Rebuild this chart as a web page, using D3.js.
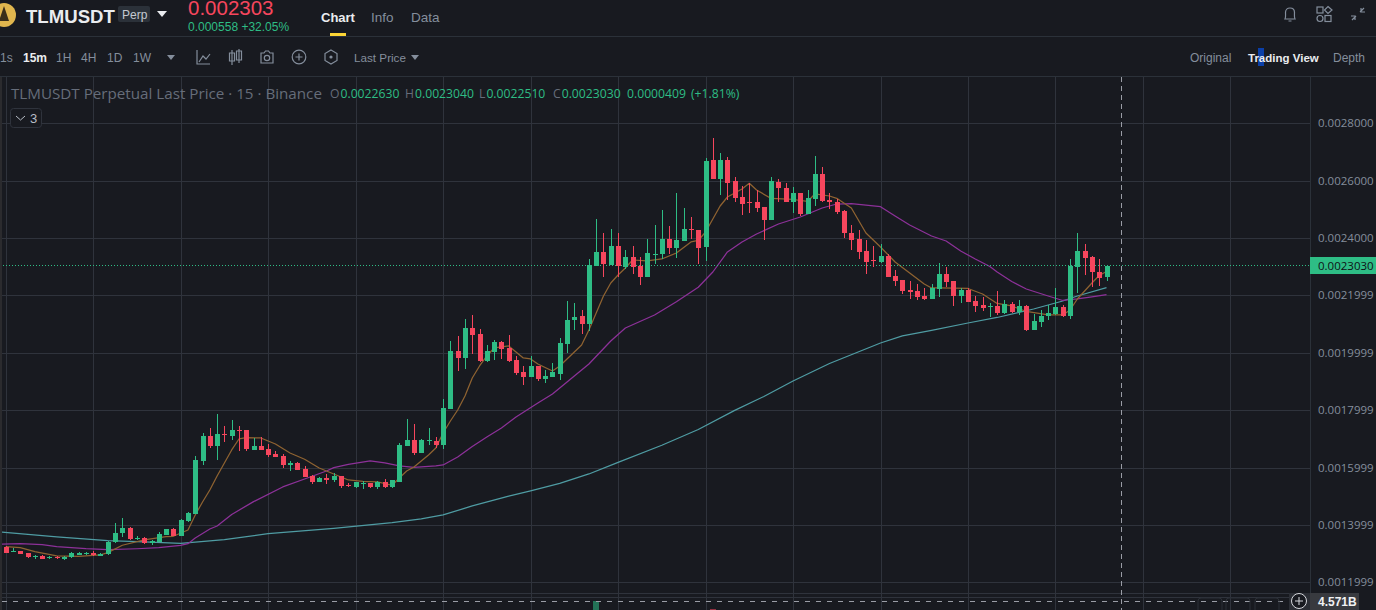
<!DOCTYPE html>
<html>
<head>
<meta charset="utf-8">
<title>TLMUSDT</title>
<script src="https://cdn.jsdelivr.net/npm/d3@7"></script>
<style>
  html, body { margin: 0; padding: 0; background: #181a20; overflow: hidden; }
  svg { display: block; }
  text { font-family: "Liberation Sans", Arial, sans-serif; }
  .crisp { shape-rendering: crispEdges; }
</style>
</head>
<body>
<svg id="chart" width="1376" height="610"></svg>
<script>
var opens = [13231,13069,13092,13011,12894,12918,12871,12894,12813,12860,
  12952,12987,13011,12929,12964,13382,13707,13882,13533,13533,
  13347,13394,13649,13847,13626,14137,14393,16239,17099,16762,
  17168,17110,17308,17308,16623,16750,16646,16472,16402,16100,
  16158,15949,15705,15496,15635,15566,15705,15403,15322,15438,
  15461,15322,15496,15322,15496,16750,16959,16507,16925,16925,
  16785,18039,20060,19816,20861,20652,19711,20025,20373,20164,
  19746,19328,19154,19537,19084,19154,19258,20304,21140,21279,
  21001,23021,23509,23056,23718,22987,23335,23021,22638,23416,
  23440,23962,23649,23892,24299,24276,23683,26715,26053,26715,
  25983,25426,25251,25251,25077,24624,25948,25739,25251,25565,
  24833,25356,26227,25321,25251,24938,24171,23962,23544,23231,
  23161,23370,22673,22534,22185,22150,21976,21872,22220,22743,
  22499,21976,22185,21802,21663,21570,21628,21384,21698,21419,
  21628,20792,21070,21279,21349,21593,21279,22987,23544,23335,
  22812,22630];
var highs = [13278,13208,13092,13011,12964,12952,12929,12929,12906,13045,
  13057,13057,13092,13022,13429,14067,14242,13916,13614,13568,
  13463,13754,13847,13882,14207,14451,16402,17203,17377,17865,
  17447,17656,17447,17308,17029,17064,16820,16576,16472,16228,
  16193,16053,15740,15670,15775,15810,15705,15461,15496,15531,
  15461,15531,15601,15566,16855,17691,17517,16994,17378,17064,
  18388,20408,20582,21175,21314,20826,20269,20443,20408,20617,
  19886,19537,19886,19537,19398,19642,20513,21802,21732,21488,
  23265,24659,24171,24311,24171,23579,23718,23335,23962,24450,
  24973,24415,25565,25042,24729,24276,26784,27481,26959,26819,
  26122,25809,25913,25669,25077,26122,26053,25913,25774,25565,
  25669,26854,26471,25565,25356,24973,24450,24276,23927,23718,
  23788,23440,22882,22534,22499,22394,22255,22394,23126,22987,
  22499,22255,22255,21976,21941,21732,22150,21837,21767,21837,
  21663,21349,21488,21663,22255,21663,23265,24171,23788,23370,
  23265,23040];
var lows = [13022,13057,12987,12860,12825,12825,12825,12813,12778,12860,
  12941,12941,12929,12929,12964,13382,13580,13487,13475,13347,
  13301,13394,13649,13614,13626,14102,14393,16100,16681,16262,
  16890,16959,16576,16576,16623,16611,16367,16379,15984,15879,
  15926,15670,15426,15496,15426,15496,15287,15322,15287,15252,
  15287,15252,15287,15287,15496,16750,16437,16507,16785,16681,
  16646,18039,19363,19433,19955,19677,19677,19746,19781,19677,
  19224,18875,19154,19015,18945,19154,19049,19990,20792,20652,
  20757,23021,22638,23056,22638,22917,22743,22359,22638,23091,
  23265,23440,23300,23892,23962,23091,23196,26053,25495,25321,
  25251,24798,24868,24903,23927,24624,25251,25251,24868,24764,
  24833,25112,25251,25008,24833,23997,23579,23265,22743,22987,
  23126,22638,22325,22046,21872,21837,21837,21872,21941,22290,
  21628,21732,21767,21419,21454,21245,21314,21349,21384,21314,
  20757,20792,20896,21140,21314,21245,21175,22081,22708,22290,
  22325,22510];
var closes = [13034,13080,12987,12860,12918,12825,12894,12871,12883,13011,
  13011,13011,12929,12999,13394,13707,13882,13487,13556,13347,
  13429,13673,13847,13614,14172,14404,16262,17099,16750,17168,
  17145,17308,17285,16646,16750,16611,16448,16379,16088,16158,
  15926,15670,15496,15635,15566,15705,15357,15357,15496,15461,
  15322,15496,15322,15566,16785,16959,16506,16959,16959,16785,
  18074,20060,19816,20861,20617,19711,20060,20373,20130,19711,
  19293,19154,19537,19084,19189,19328,20339,21140,21244,21001,
  23056,23509,23091,23718,23021,23335,22987,22638,23474,23440,
  23962,23649,23927,24311,24276,23649,26680,26053,26715,25913,
  25391,25182,25228,25042,24624,25983,25739,25251,25565,24833,
  25391,26227,25286,25251,24903,24171,23927,23509,23161,23207,
  23370,22638,22499,22150,22116,21941,21872,22255,22743,22464,
  21976,22185,21767,21628,21558,21616,21384,21698,21419,21628,
  20792,21105,21279,21384,21593,21279,23021,23544,23300,22812,
  22603,23030];

// moving averages, read at the candle indexes listed
var ma7Idx = [0,2,4,7,10,13,14,16,19,22,23,25,26,27,28,29,30,31,32,33,35,37,39,41,43,45,47,49,51,53,54,55,56,58,59,60,61,62,63,64,65,66,67,69,71,72,73,75,76,78,79,80,81,82,83,84,85,86,88,90,92,94,95,96,97,98,99,101,102,103,105,108,110,111,113,114,116,118,120,122,124,126,127,128,132,134,136,138,140,143,145,146,147,148,149,150,151];
var ma7 = [13242,13207,13067,12918,12907,12953,13033,13291,13475,13590,13604,13824,14346,14799,15217,15705,16158,16611,16994,17039,17029,16820,16506,16287,15984,15775,15566,15520,15496,15381,15635,15879,16019,16437,16680,17203,17621,18004,18492,19119,19537,19886,20164,20234,19816,19781,19607,19363,19537,20025,20269,20792,21384,21976,22429,22708,22952,23230,23196,23265,23474,23858,23910,24206,24659,25112,25425,25704,25903,25669,25373,25338,25269,25530,25460,25380,25042,24171,23683,23161,22777,22394,22255,22255,22237,22046,21715,21628,21436,21314,21314,21488,21872,22150,22429,22690,22830];
var ma25Idx = [-1,2,5,7,11,14,18,21,24,25,26,28,29,31,34,38,41,44,45,47,50,52,54,56,59,60,62,64,66,68,70,73,75,78,80,83,85,89,92,95,97,99,101,103,106,109,112,114,116,120,122,124,127,129,131,133,135,136,138,140,143,145,147,149,151];
var ma25 = [13325,13346,13311,13242,13172,13137,13169,13207,13284,13346,13545,13858,13963,14364,14810,15322,15600,15879,15994,16106,16228,16158,16053,16008,16053,16088,16367,16733,17064,17377,17761,18248,18562,19189,19607,20408,20861,21314,21778,22279,22812,23509,23858,24136,24485,24729,25042,25181,25192,25087,24763,24450,24067,23892,23544,23265,23004,22812,22481,22220,21976,21819,21872,21941,22021];
var ma99Idx = [-1,7,14,19,24,30,36,45,53,57,60,64,69,72,76,80,84,90,95,100,104,108,113,120,123,127,132,136,141,145,147,151];
var ma99 = [13760,13587,13454,13405,13360,13486,13695,13883,14078,14207,14346,14660,15001,15182,15447,15775,16179,16775,17325,17990,18475,19015,19625,20339,20583,20781,21035,21227,21523,21802,21976,22265];

var priceTicks = [28000,26000,24000,22000,20000,18000,16000,14000,12000];
var priceLabels = ["0.0028000","0.0026000","0.0024000","0.0021999","0.0019999","0.0017999","0.0015999","0.0013999","0.0011999"];
var lastPrice = 23030;
var lastPriceLabel = "0.0023030";

// only the two volume bars tall enough to show in the strip at the bottom
var volIdx = [81,97];
var volVals = [4.571,3.82];
var volLabel = "4.571B";
var crosshairIdx = 153;

var legendRuns = [["O","0.0022630"],["H","0.0023040"],["L","0.0022510"],["C","0.0023030"]];
var intervals = ["1s","15m","1H","4H","1D","1W"];

var green = "#2ebd85", red = "#f6465d", gridColor = "#2f333c", lineColor = "#2b3139", grey = "#848e9c";

var svg = d3.select("#chart");

var x = d3.scaleLinear().domain([0,151]).range([5.7,1106.5]);
var y = d3.scaleLinear().domain([12000,28000]).range([582.3,123.1]);
var volY = d3.scaleLinear().domain([0,4.571]).range([650,601]);

var plotRight = 1310, plotTop = 77;

svg.append("rect").attr("width",1376).attr("height",610).attr("fill","#181a20");

svg.append("defs").append("clipPath").attr("id","plot")
  .append("rect").attr("x",2).attr("y",plotTop).attr("width",plotRight-2).attr("height",610-plotTop);

var plot = svg.append("g").attr("clip-path","url(#plot)");

// grid, one vertical every 12 candles
var gridIdx = d3.range(0,169,12);

plot.append("g").attr("class","crisp")
  .call(d3.axisBottom(x).tickValues(gridIdx).tickSize(610).tickFormat(""))
  .call(function(g) {
    g.select(".domain").remove();
    g.selectAll("line").attr("stroke",gridColor);
  });

plot.append("g").attr("class","crisp")
  .call(d3.axisLeft(y).tickValues(priceTicks).tickSize(-plotRight).tickFormat(""))
  .call(function(g) {
    g.select(".domain").remove();
    g.selectAll("line").attr("stroke",gridColor);
  });

// the two rules where the volume pane starts
[593,597].forEach(function(p) {
  plot.append("line").attr("class","crisp").attr("x1",0).attr("x2",plotRight).attr("y1",p).attr("y2",p).attr("stroke",gridColor);
});

// volume strip
plot.append("g").attr("class","crisp").selectAll("rect")
  .data(volIdx)
  .join("rect")
    .attr("x",function(d) { return Math.round(x(d))-3; })
    .attr("width",6)
    .attr("y",function(d,i) { return volY(volVals[i]); })
    .attr("height",function(d,i) { return volY(0)-volY(volVals[i]); })
    .attr("fill",function(d) { return closes[d] >= opens[d] ? green : red; })
    .attr("opacity",0.55);

// moving averages, under the candles
function maLine(idx, vals, color) {
  var line = d3.line()
    .x(function(d) { return x(idx[d]); })
    .y(function(d) { return y(vals[d]); });
  plot.append("path")
    .attr("d",line(d3.range(idx.length)))
    .attr("fill","none")
    .attr("stroke",color)
    .attr("stroke-width",1.25)
    .attr("stroke-linejoin","round");
}
maLine(ma99Idx,ma99,"#4f9ca3");
maLine(ma25Idx,ma25,"#8d3199");
maLine(ma7Idx,ma7,"#8f6331");

// last price line
var lastY = Math.floor(y(lastPrice));
plot.append("line").attr("class","crisp")
  .attr("x1",0).attr("x2",plotRight)
  .attr("y1",lastY+0.5).attr("y2",lastY+0.5)
  .attr("stroke",green).attr("stroke-dasharray","1 2");

// candles
var candles = plot.append("g").attr("class","crisp").selectAll("g")
  .data(d3.range(opens.length))
  .join("g");

candles.append("rect")
  .attr("x",function(d) { return Math.round(x(d)); })
  .attr("width",1)
  .attr("y",function(d) { return y(highs[d]); })
  .attr("height",function(d) { return y(lows[d])-y(highs[d]); })
  .attr("fill",function(d) { return closes[d] >= opens[d] ? green : red; });

candles.append("rect")
  .attr("x",function(d) { return Math.round(x(d))-2; })
  .attr("width",5)
  .attr("y",function(d) { return Math.round(y(Math.max(opens[d],closes[d]))); })
  .attr("height",function(d) { return Math.max(1,Math.round(Math.abs(y(opens[d])-y(closes[d])))); })
  .attr("fill",function(d) { return closes[d] >= opens[d] ? green : red; });

// crosshair
var crossColor = "#9a9da6";
plot.append("line").attr("class","crisp")
  .attr("x1",x(crosshairIdx)).attr("x2",x(crosshairIdx)).attr("y1",plotTop).attr("y2",610)
  .attr("stroke",crossColor).attr("stroke-dasharray","5 4");
plot.append("line").attr("class","crisp")
  .attr("x1",2).attr("x2",1290).attr("y1",601.5).attr("y2",601.5)
  .attr("stroke",crossColor).attr("stroke-dasharray","5 6");

// price axis on the right
svg.append("line").attr("class","crisp").attr("x1",plotRight+0.5).attr("x2",plotRight+0.5).attr("y1",plotTop).attr("y2",610).attr("stroke",lineColor);
svg.append("rect").attr("x",0).attr("y",plotTop).attr("width",2).attr("height",533).attr("fill","#2b2b2e");

var axis = svg.append("g")
  .attr("transform","translate(1318,0)")
  .call(d3.axisRight(y).tickValues(priceTicks).tickSize(0).tickPadding(0)
    .tickFormat(function(d,i) { return priceLabels[i]; }));
axis.select(".domain").remove();
axis.selectAll("text")
  .attr("fill",grey)
  .style("font-family","'Open Sans', sans-serif")
  .style("font-size","11.5px");

svg.append("rect").attr("x",plotRight).attr("y",lastY-8).attr("width",66).attr("height",17).attr("fill",green);
svg.append("text").attr("x",1318).attr("y",lastY+4.5)
  .attr("fill","#0f1115").style("font-family","'Open Sans', sans-serif").style("font-size","11.5px")
  .text(lastPriceLabel);

// faint buttons behind the crosshair at the bottom
[1198,1226,1255].forEach(function(bx) {
  svg.append("rect").attr("x",bx).attr("y",598).attr("width",24).attr("height",20).attr("rx",3)
    .attr("fill","none").attr("stroke","#2b2f36");
});

svg.append("rect").attr("x",1289).attr("y",593).attr("width",21).attr("height",17).attr("fill","#2b2e35");
svg.append("circle").attr("cx",1299).attr("cy",601).attr("r",7.5).attr("fill","#181a20").attr("stroke","#d5d7dc");
svg.append("path").attr("d","M1295 601H1303M1299 597V605").attr("stroke","#d5d7dc");
svg.append("rect").attr("x",1310).attr("y",593).attr("width",49).attr("height",17).attr("fill","#383a3f");
svg.append("text").attr("x",1318).attr("y",606).attr("fill","#f0f1f3")
  .style("font-size","12px").style("font-weight","bold").text(volLabel);

// legend
var legendGrey = "#666d7a";
svg.append("text").attr("x",11).attr("y",99).attr("fill",legendGrey)
  .style("font-family","'Open Sans', sans-serif").style("font-size","15.2px")
  .text("TLMUSDT Perpetual Last Price \u00b7 15 \u00b7 Binance");

var legend = svg.append("text").attr("x",330).attr("y",98)
  .style("font-family","'Open Sans', sans-serif").style("font-size","12.2px");
var legendX = [330,405,479,553];
legendRuns.forEach(function(r,i) {
  legend.append("tspan").attr("x",legendX[i]).attr("fill",legendGrey).text(r[0]);
  legend.append("tspan").attr("dx",1).attr("fill",green).text(r[1]);
});
legend.append("tspan").attr("x",627).attr("fill",green).text("0.0000409");
legend.append("tspan").attr("x",691).attr("fill",green).text("(+1.81%)");

svg.append("rect").attr("x",10.5).attr("y",108.5).attr("width",31).attr("height",19).attr("rx",3)
  .attr("fill","#181a20").attr("stroke","#2f333c");
svg.append("path").attr("d","M16 116L20.5 120L25 116").attr("fill","none").attr("stroke","#b7bdc6");
svg.append("text").attr("x",30).attr("y",123).attr("fill","#b7bdc6").style("font-size","13px").text("3");

// header
svg.append("rect").attr("class","crisp").attr("y",0).attr("width",1376).attr("height",76).attr("fill","#181a20");
[36,76].forEach(function(p) {
  svg.append("line").attr("class","crisp").attr("x1",0).attr("x2",1376).attr("y1",p+0.5).attr("y2",p+0.5).attr("stroke",lineColor);
});

svg.append("circle").attr("cx",4).attr("cy",15).attr("r",12).attr("fill","#e0b64e");
svg.append("path").attr("d","M4 6L9 21H-1Z").attr("fill","#3a2f1a");

svg.append("text").attr("x",26).attr("y",23).attr("fill","#eaecef")
  .style("font-size","18.6px").style("font-weight","bold").text("TLMUSDT");
svg.append("rect").attr("x",118).attr("y",6).attr("width",32).attr("height",16).attr("rx",2).attr("fill","#2b3139");
svg.append("text").attr("x",122).attr("y",19).attr("fill","#c4c9d1").style("font-size","12px").text("Perp");
svg.append("path").attr("d","M157 11H167L162 17Z").attr("fill","#eaecef");

svg.append("text").attr("x",188).attr("y",15).attr("fill",red).style("font-size","20.5px").text("0.002303");
svg.append("text").attr("x",188).attr("y",31).attr("fill",green).style("font-size","12px").text("0.000558 +32.05%");

svg.append("text").attr("x",321).attr("y",22).attr("fill","#eaecef").style("font-size","13px").style("font-weight","bold").text("Chart");
svg.append("text").attr("x",371).attr("y",22).attr("fill",grey).style("font-size","13.5px").text("Info");
svg.append("text").attr("x",411).attr("y",22).attr("fill",grey).style("font-size","13.5px").text("Data");
svg.append("rect").attr("x",330).attr("y",33).attr("width",16).attr("height",3).attr("fill","#fcd535");

// toolbar row
var intervalX = [0,23,56,81,107,133];
intervals.forEach(function(t,i) {
  svg.append("text").attr("x",intervalX[i]).attr("y",62)
    .attr("fill",t == "15m" ? "#eaecef" : grey)
    .style("font-size","12px").style("font-weight",t == "15m" ? "bold" : "normal").text(t);
});
svg.append("path").attr("d","M167 55H175L171 60Z").attr("fill",grey);

var icon = svg.append("g").attr("fill","none").attr("stroke",grey).attr("stroke-width",1.2);
icon.append("path").attr("d","M197 50V64H210M199 62L203 56L206 59L210 54");
icon.append("path").attr("d","M232 50V65M232 53H229.5V61H234.5V53ZM239 49V63M239 51H236.5V60H241.5V51Z");
icon.append("path").attr("d","M261 53H264L265.5 51H268.5L270 53H273V63H261Z");
icon.append("circle").attr("cx",267).attr("cy",58).attr("r",2.7);
icon.append("circle").attr("cx",299).attr("cy",57).attr("r",6.8);
icon.append("path").attr("d","M295.5 57H302.5M299 53.5V60.5");
icon.append("path").attr("d","M331 50L337 53.5V60.5L331 64L325 60.5V53.5Z");
svg.append("circle").attr("cx",331).attr("cy",57).attr("r",1.6).attr("fill",grey);

svg.append("text").attr("x",354).attr("y",62).attr("fill",grey).style("font-size","11.7px").text("Last Price");
svg.append("path").attr("d","M411 55H419L415 60Z").attr("fill",grey);

// top right icons
icon.append("path").attr("d","M1285 19C1286 17 1285.5 15 1285.5 12.5C1285.5 9.5 1287.5 8 1290 8C1292.5 8 1294.5 9.5 1294.5 12.5C1294.5 15 1294 17 1295 19ZM1288.5 21H1291.5");
icon.append("rect").attr("x",1317).attr("y",7).attr("width",6).attr("height",6);
icon.append("path").attr("d","M1328 6.5L1332 10L1328 13.5L1324.5 10Z");
icon.append("circle").attr("cx",1320).attr("cy",18.5).attr("r",3);
icon.append("rect").attr("x",1325).attr("y",15.5).attr("width",6).attr("height",6);
icon.append("path").attr("d","M1352 20L1356 16M1355 20V16H1351M1364 8L1360 12M1361 8V12H1365");

svg.append("rect").attr("x",1258).attr("y",48).attr("width",6).attr("height",18).attr("fill","#0b3fa8");
svg.append("text").attr("x",1190).attr("y",62).attr("fill",grey).style("font-size","12px").text("Original");
svg.append("text").attr("x",1248).attr("y",62).attr("fill","#eaecef").style("font-size","11.5px").style("font-weight","bold").text("Trading View");
svg.append("text").attr("x",1333).attr("y",62).attr("fill",grey).style("font-size","12px").text("Depth");
</script>
</body>
</html>
